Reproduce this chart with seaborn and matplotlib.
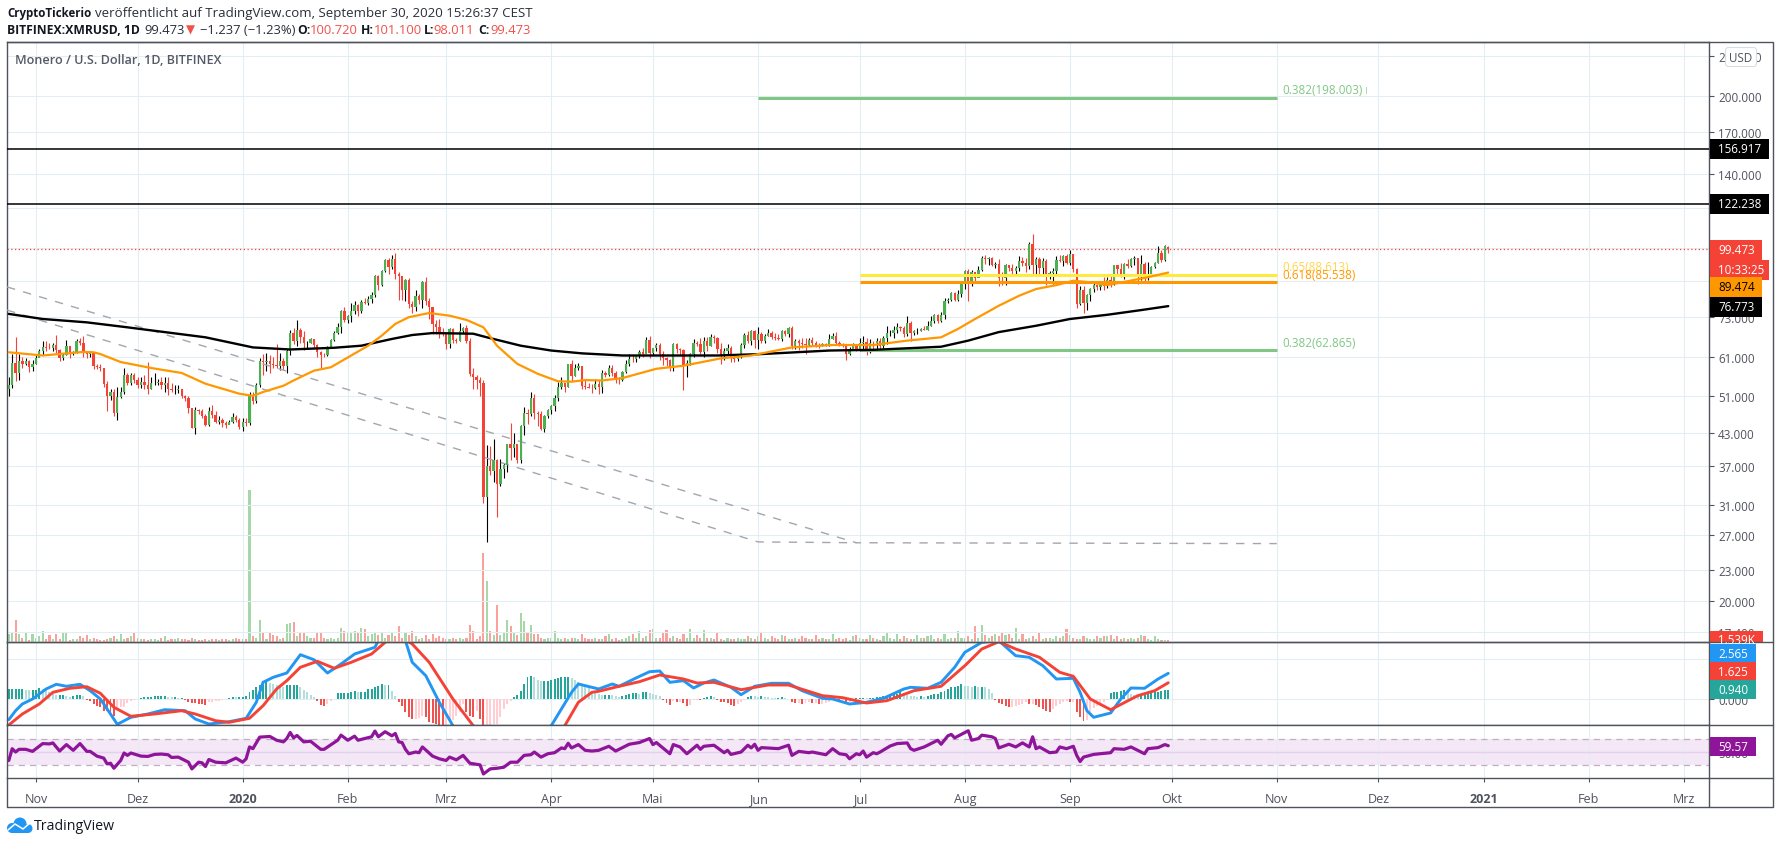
import numpy as np
import matplotlib
matplotlib.use('Agg')
import matplotlib.pyplot as plt
from matplotlib.patches import Rectangle, Circle, FancyBboxPatch
from matplotlib.ticker import NullLocator
import seaborn as sns

# daily candles, 24 Oct 2019 to 30 Sep 2020, days counted from 1 Nov 2019
first_day = -8
closes = [53.5,59.2,56.7,59.7,58.9,59.7,58.2,59.0,60.7,62.5,
    63.6,63.4,63.3,64.3,62.9,60.6,61.5,63.9,62.2,62.2,
    65.6,65.0,62.2,61.7,62.2,58.5,58.2,57.9,53.8,51.0,
    51.9,47.2,50.8,51.9,56.0,54.0,56.0,54.9,53.5,54.4,
    53.5,52.6,54.0,54.1,54.3,53.6,54.0,52.6,52.4,52.4,
    52.5,51.0,50.6,48.2,44.1,47.8,47.5,46.6,44.7,47.7,
    46.8,45.3,45.6,45.0,44.6,45.3,46.4,45.7,44.2,45.3,
    45.0,51.0,49.9,53.5,59.8,59.4,59.9,59.0,58.6,58.3,
    59.8,58.3,62.6,68.0,65.6,68.8,66.8,64.8,64.9,66.0,
    64.2,62.3,61.4,61.3,63.5,65.7,67.8,69.8,75.0,72.1,
    73.4,75.0,77.1,75.0,78.3,78.0,79.4,80.6,88.0,84.4,
    90.0,94.6,91.6,95.0,88.8,88.1,82.6,86.4,77.5,76.3,
    80.4,79.0,85.7,78.6,76.6,70.8,69.8,67.8,67.5,64.5,
    69.1,65.7,65.6,68.5,69.4,65.4,56.3,55.7,54.8,54.0,
    32.2,37.0,36.2,38.0,34.1,36.5,37.2,40.9,40.2,41.0,
    38.1,44.4,47.1,47.0,50.5,47.2,47.0,43.9,46.5,47.8,
    48.7,50.6,53.0,54.0,53.2,59.1,55.9,57.8,58.3,53.3,
    53.0,52.9,52.8,53.9,53.1,56.6,56.0,58.0,56.5,54.9,
    54.7,56.9,59.0,60.4,60.2,61.1,62.2,61.8,65.9,62.0,
    63.3,64.4,61.8,60.5,60.0,58.2,64.7,63.0,62.8,58.4,
    59.3,61.6,64.9,64.6,62.2,65.4,63.9,66.6,66.4,63.0,
    61.1,62.7,63.5,60.6,60.4,60.9,64.4,67.3,65.6,68.4,
    65.8,67.7,65.5,66.9,68.0,66.8,66.5,66.0,68.4,67.5,
    69.5,63.9,65.6,64.9,64.5,64.3,65.8,64.8,64.4,64.3,
    64.6,64.4,66.0,67.0,65.0,64.3,64.1,61.7,63.0,64.0,
    63.0,65.0,65.2,62.3,65.0,64.8,65.4,63.9,66.4,67.9,
    68.0,68.9,69.8,69.6,67.7,71.2,67.9,68.5,68.6,69.2,
    69.0,70.2,71.7,73.6,71.7,73.8,78.6,78.8,81.6,79.0,
    81.2,85.0,90.2,85.0,89.5,87.3,90.6,95.7,95.2,95.4,
    92.4,93.1,87.3,87.1,92.8,91.4,90.0,91.5,94.1,93.3,
    92.0,102.0,92.4,95.2,91.4,94.3,88.7,89.3,90.2,94.8,
    94.5,96.7,93.3,97.4,91.0,77.6,82.7,77.8,80.6,83.0,
    84.7,83.7,85.5,84.2,86.5,85.2,92.4,91.0,88.3,93.1,
    92.0,95.2,95.4,88.9,93.1,87.3,87.8,91.7,93.3,97.9,
    94.8,101.2,99.473]
highs = [55.5,61.6,66.6,61.6,61,60.5,60,60,61.7,63,
    65.5,65.5,65,65,67.4,63,62,65.8,64,62.5,
    66,66.5,67,62.5,62.5,62,59,59,58,54.5,
    52.5,52.5,53,53,58,56.5,56.5,56.5,55.5,55.5,
    56,59.5,55.5,56.5,55,55.5,55.7,55.7,54,53.5,
    53.5,52.5,51.2,51,48,48.5,48,48,47,48.5,
    49,47.5,46.5,46.2,45.5,45.6,47.2,46.8,46,46,
    46,52,52,54,60.5,61.8,62,61.5,61,64.5,
    62,60.5,63,68.8,69.5,72,69.5,68.5,65.5,66.5,
    66,64.5,62.6,62,64,66,68.5,71,75.5,76.5,
    73.8,78,78.5,77.5,79,79.5,80.5,82,88.5,88.5,
    90.5,95,95.5,97,98,89.5,87,87,87.3,78.5,
    82.5,81,86,87.5,79.5,76,72,72.5,69.5,67.5,
    69.5,69.5,66.5,71,69.8,70.5,66.3,58,56,55.5,
    54.8,40.8,40.5,41.8,38.2,38.2,37.6,40.9,45,43,
    41,44.6,48.5,48,52,51.5,47.5,47.5,46.7,48,
    49,51.2,54.3,55.5,54,59.1,60,59,59.3,58.5,
    54.7,54,53.8,55,54.8,57.5,57,58.8,58.7,57,
    55.7,57,60,61.8,61.5,61.5,62.8,63.3,66.8,67,
    63.5,65,65,62.5,60.8,60.3,64.9,65,63.5,63,
    60,62,66,65.5,66.5,66.8,66.8,67.5,67.3,66.8,
    65,63.5,64.5,64,61,61.5,64.8,67.8,68.5,68.8,
    69,69.8,68.3,67.5,69.2,68.5,68,67.5,68.8,69,
    69.7,70,66,66,66.5,66.5,66.5,66.8,65.5,65,
    65,65,67.5,68,68.3,65.5,64.8,64.3,63.8,65,
    64.5,66.5,67,66.3,66,65.5,66.5,66.3,67,70,
    68.8,70,71,70,70,73.5,71.8,69,69.5,69.6,
    70,71.8,73.5,74,74,74.8,79.5,79.5,82,82,
    82.5,85.5,90.5,91,90.5,89.5,92,96.5,97,96,
    96,94,95,89.5,93,92.5,93,92,96.5,96,
    95.5,103,106.5,96,96,95.5,95,90,91.5,96.5,
    97,97,97.5,99,97.5,91.5,84,84,81,83.5,
    85.5,85,86,87.5,87.5,88,92.8,92.5,93.5,93.5,
    95,95.5,96.5,94.5,97,94,94,92.3,94,101,
    99,101.5,101.1]
lows = [51,52.9,54.5,54.8,58,58.7,56.9,57,59,61,
    61.5,62.7,63,62.5,62,59.8,60,61.5,60.5,61.5,
    62,64.2,61,60.5,61,57.6,57.6,57.2,53,47.5,
    50,46.6,45.6,50.5,51.5,53.5,53.7,54,52.8,52.8,
    52.7,51.5,52.5,53.5,53.5,52.7,52,51.3,51.8,51.5,
    51.6,50.5,49.7,47.2,44,42.8,47,46,44.4,44.5,
    46,45,44.8,44.2,44,44.8,45,45.3,43.8,43.5,
    44.5,44.6,49.2,49.4,53,56,57.2,56.5,58,58,
    57.5,57.5,56.5,61.5,64.5,64,64.8,62.8,63,64.8,
    63.5,61,57.9,61,61.2,63.5,65.5,67.5,68,71.5,
    71,71.5,74,73.5,74.5,77.5,77,78,80,82.5,
    84,89.5,89,91,87,79,78.8,78.5,76,74.5,
    75,77.5,76,77,72.5,67.7,67.5,66.5,67,63.2,
    63.5,65,65,65.5,68,65,55.8,52.5,52.5,50.9,
    31.3,26.2,35.5,34.5,29.3,33.8,35,36,38,38.5,
    37.5,37.6,42.7,44.8,46.5,45.8,44.5,43.7,43.2,46,
    47,47.5,49.8,52.5,52,53,54.5,55.8,57.5,52.5,
    52.7,52.8,51.7,52.5,51.5,51.6,55.5,55.8,55.8,54,
    53.8,54.5,56.5,58.5,59.5,59.5,60.5,61,62,60.6,
    61.5,62.5,60,58.8,58.5,57,57.2,62,61.3,52.3,
    55.7,58.8,61,64,61.8,61,62.5,64,65,62,
    59,60,61.5,59.5,59.5,59.7,60.5,63.5,64.8,64.2,
    63.5,63,64.8,64.8,67,66.2,65.8,65.7,65.5,67,
    66.8,63,63,62.8,63.5,61.7,64,64,63.8,63.5,
    63.9,64,64,66,64.5,64,63.6,60,61.5,63,
    62.6,62.5,63,61.3,61.9,63,62.8,63,63.4,64.5,
    67,66.5,68,68.5,66.8,67,65.5,67.2,67.5,68.5,
    68.8,69,70,71,71,71.5,72.5,78,78.5,78.5,
    78.6,80,83,78.5,84,85.5,87.5,90,93,92.5,
    92,91.5,84,84.5,84.5,90,88.5,89,90,92,
    89.5,91,89,88.9,88.5,89,84.5,87,84.8,88.5,
    94,92,93,92.5,89.5,76,77,74.3,75.5,78.5,
    82,82.5,82.5,82.5,83.3,83.8,84.5,88.5,87.5,87,
    91.5,91.8,92.5,85,86.5,85.5,86.5,88,91.5,93.5,
    94,94.5,98.011]
volumes_k = [7,8,20,7,4,9,2,7,4,5,
    10,3,6,3,7,3,8,8,2,3,
    3,5,4,6,3,4,3,2,2,3,
    4,5,3,7,3,4,5,9,4,3,
    3,2,3,3,2,4,5,2,3,3,
    4,3,3,2,4,3,2,2,3,2,
    3,3,2,3,3,2,3,4,3,3,
    3,137,5,4,19.5,8,3,9,6,5,
    3,4,16,17,18,5,8,8,5,4,
    4,8,8,4,3,4,3,4,13,10,
    9,8,10,8,13,12,5,7,9,6,
    9,4,6,9,5,14,4,9,6,10,
    5,3,4,6,3,7,4,5,4,3,
    3,4,3,4,3,4,15,10,3,5,
    80,55,10,6,33,6,8,20,14,8,
    6,26,19,8,15,7,7,4,3,4,
    4,10,4,3,4,3,4,4,3,7,
    4,3,3,4,3,3,5,7,3,4,
    2,3,4,5,7,4,10,4,5,11,
    12,4,4,9,11,4,5,4,3,7,
    4,12,4,6,4,11,4,4,3,9,
    3,2,4,3,3,4,3,3,5,4,
    3,5,9,4,3,5,4,3,6,5,
    3,3,4,3,5,4,3,3,6,3,
    4,3,3,7,3,4,3,4,2,5,
    6,4,3,3,6,4,3,2,5,9,
    4,3,7,3,5,4,3,3,6,4,
    4,5,6,3,4,3,7,3,4,4,
    10,4,4,5,3,14,4,15,6,4,
    5,7,5,8,6,7,4,13,3,7,
    3,4,5,3,9,3,4,4,3,5,
    4,5,12,6,4,3,3,5,4,3,
    3,5,4,5,5,6,3,5,3,4,
    3,4,3,4,6,5,3,2,5,3,
    2,2,1.5]

# moving averages at the bends
ma50_days = [-8,2,14,17,19,25,34,43,50,60,64,67,73,76,82,87,93,98,102,106,110,116,122,127,132,136,
    142,148,154,158,162,167,173,183,191,202,211,223,235,247,257,267,272,277,284,290,295,301,306,311,316,322,328,334]
ma50 = [62.2,61.3,62.3,62.2,61.7,59.5,57.9,56.6,53.9,51.5,51,51.9,53.4,54.7,57.2,58.1,61.3,64.1,67.1,70.8,73,74.4,73.5,72.1,69.7,64.1,
    59,56.4,54.5,54.4,54.8,54.7,55.3,57.7,58.5,60.5,61.3,63.6,64.3,64.3,65.6,66.6,69.2,72.4,76.9,80.5,83,84.5,86.2,85.6,84.5,86,87.6,89.474]
ma200_days = [-8,2,15,27,38,50,64,75,88,96,105,111,117,129,133,143,152,161,173,201,214,234,247,267,275,284,295,305,316,326,334]
ma200 = [74.1,72.4,71.3,69.7,68.2,66.6,63.6,63,63.5,64.1,66.1,67.3,67.9,67.7,66.6,64.1,62.7,61.9,61.3,61.3,61.7,62.7,62.9,63.8,65.6,68.2,70.2,72.4,73.8,75.4,76.773]

macd_days = [-8,-6,-4,-1,3,6,9,13,16,19,22,24,28,33,38,44,47,51,57,62,65,67,70,74,78,82,86,90,94,100,101,105,109,111,115,119,123,131,142,152,158,160,166,
    170,172,177,181,184,187,191,194,197,200,205,208,212,217,222,226,232,235,240,245,250,256,258,263,267,271,274,279,284,289,293,297,301,306,308,310,312,317,320,323,327,331,334]
macd = [-2.07,-1.17,-.5,0,1,1.47,1.27,1.47,.83,0,-1.5,-2.53,-1.83,-1.5,-1.07,-1.17,-2,-2.5,-2.27,-1.93,-.33,1.67,2.17,2.6,4.43,3.93,2.6,3.5,4.5,5.17,5.83,7,5.83,3.67,2.33,-.33,-2.67,-4.67,-5,-2.67,.67,1.5,1,
    1.5,1.27,2.1,2.73,2.8,1.67,1.83,1.1,1.6,1.9,1.17,.43,1.27,1.57,1.57,.83,.07,0,-.5,-.33,.07,1,1.17,1.07,1.67,3.17,4.67,5.67,5.83,4.33,4.17,3.33,2,2.07,.67,-1.17,-1.83,-1.4,0,1.1,1.07,2,2.565]
signal_days = [-8,-4,1,5,10,15,19,23,28,35,43,47,53,57,63,67,71,74,78,83,88,93,99,103,107,111,116,123,129,136,147,156,160,164,166,
    172,178,184,191,195,200,208,216,222,232,238,245,251,259,267,274,279,284,289,296,302,306,311,317,325,330,334]
signal = [-2.6,-1.5,-.5,.67,1.07,1.23,.57,-.83,-1.73,-1.5,-1.17,-1.5,-2.17,-2.33,-1.93,-.67,1,1.83,3.17,3.77,3.07,3.67,4.5,5.67,6.33,5.5,3.67,0,-2.67,-4.33,-4.67,-2.67,-.33,.67,.77,
    1.27,1.73,2.4,2,1.6,1.67,.93,1.4,1.4,.33,.13,-.4,-.17,.83,1.27,3.33,5,5.73,5,4.17,2.67,2.27,0,-1.07,.33,.83,1.625]
macd_hist = [1,1,1,1,1,.93,.9,.9,.93,1.07,
    1,.87,.73,.6,.4,.4,.4,.33,.17,.27,
    .4,.4,.33,-.07,-.17,-.5,-.67,-.83,-1.17,-1.2,
    -1.27,-1.67,-1,-.83,-.83,-.4,-.17,-.07,0,.1,
    .17,.17,.2,.27,.27,.33,.33,.23,.17,.17,
    .07,.07,-.1,-.33,-.4,-.43,-.47,-.5,-.57,-.33,
    -.27,-.2,-.17,-.1,-.03,.1,.2,.17,.2,.23,
    .27,.67,.9,1.17,1.43,1.83,1.93,1.6,1.5,1.43,
    1.27,1.17,1.4,1.43,1.43,1.43,1.17,.9,.67,.4,
    .17,-.17,-.6,-.67,-.5,-.17,-.03,.57,.57,.6,
    .6,.73,.83,.67,.67,.67,1,1,1.17,1.33,
    1.5,1.4,1.4,.83,.33,-.33,-.73,-1.33,-1.83,-2,
    -2,-1.93,-1.67,-1.83,-2.27,-2.4,-2.5,-2.8,-3,-2.9,
    -2.33,-2.07,-1.67,-1.33,-.5,-1.33,-1.67,-1.83,-1.17,-2,
    -3.2,-3.1,-2.9,-2.5,-2.5,-1.83,-1,-.5,-.17,.17,
    .4,.83,1.5,2.17,2.27,2.17,1.93,1.83,1.83,1.83,
    1.93,2,2.07,2.17,2.17,2.17,2.07,1.93,1.67,1.5,
    1.33,1.07,.83,.67,.5,
    .4,.4,.43,.4,.27,.17,.27,.4,.5,.57,
    .6,.5,.73,.73,.6,.5,.4,.27,-.1,-.4,
    -.6,-.17,-.27,-.27,-.4,-.67,-.6,-.1,-.07,-.1,
    .07,.17,.27,.2,-.1,-.27,-.33,-.4,-.6,-.67,
    -.5,-.27,-.1,.17,.33,.27,.23,.27,.23,.17,
    .1,.07,.1,.17,.1,-.03,-.27,-.4,-.4,-.5,
    -.4,-.33,-.4,-.4,-.5,-.5,-.4,-.27,-.1,-.07,
    -.17,-.07,-.27,-.27,0,.07,.1,.1,.07,.1,
    .1,.17,.23,.27,.33,.4,.5,.5,.67,.6,
    .4,.33,.27,.23,.27,.23,.27,.4,.5,.5,
    .73,.83,1,1.17,1.17,1.27,1.5,1.33,1.27,1.17,
    1.27,1.23,1.23,1.17,1,.6,-.07,-.4,-.5,-.67,
    -.83,-.83,-.67,-.6,-.5,-.33,-.5,-.5,-.6,-.83,
    -1,-1.17,-1.27,-1,-.67,-.5,-.33,-.17,-.27,-.27,-1.33,
    -1.83,-2.17,-2.07,-1.33,-.93,-.73,-.6,-.33,-.1,.6,
    .67,.73,.83,.93,.73,.5,.4,.33,.33,.4,
    .5,.6,.67,.73,.83,.93,.94]

rsi_days = [-8,-7,-6,-5,-3,-1,2,4,5,7,9,11,13,15,16,18,20,21,22,23,25,26,27,28,31,33,35,37,39,40,42,45,46,48,49,50,51,53,56,59,61,62,63,64,66,69,71,73,74,75,76,77,79,81,84,85,89,90,92,94,95,99,100,101,103,105,106,107,108,109,110,112,113,114,117,119,121,122,124,126,128,131,132,134,136,138,140,142,144,146,147,149,151,153,155,156,157,158,160,162,164,166,
    169,171,175,178,181,182,183,187,188,190,192,195,196,197,200,203,204,205,208,210,211,212,213,214,219,222,223,225,228,229,233,235,237,239,240,242,243,244,245,247,248,249,252,254,257,258,259,262,266,267,269,270,271,275,276,278,279,282,283,284,287,289,291,293,294,295,296,299,301,302,304,306,307,308,309,312,317,318,321,323,326,327,328,331,333,334]
rsi = [37.2,55.1,50,54.1,54.1,51,62.8,62.3,63.8,51.5,61.3,52.6,62.8,51,51,43.8,40.8,32,33,25.4,37.2,48.5,44.9,48.5,43.8,43.3,46.4,46.9,45.9,41.8,42.3,34.6,24.4,34.6,33.6,28,38.7,34.6,33.6,40.8,34.6,39.7,57.7,55.1,72.6,73.6,67.9,65.4,70.5,79.7,71.5,75.1,65.4,66.4,54.1,54.1,67.9,75.6,67.9,74.1,67.9,73.1,81.8,73.1,80.8,74.6,78.2,65.4,64.4,54.1,47.4,50,49,57.7,43.8,39.7,37.2,42.3,38.2,44.9,33,30.5,16.7,24.4,25.4,26.9,34.6,34.6,44.9,45.9,50,42.3,47.4,49,56.2,55.1,63.3,56.2,61.3,52.6,51.5,52.6,
    58.7,51.5,61.8,64.4,70.5,61.3,64.4,47.4,61.3,57.7,47.4,60.3,54.1,58.7,60.3,49,52.6,46.4,50,60.3,56.2,61.8,52.6,56.7,55.1,60.3,44.9,51,49,50,45.9,55.1,47.4,45.9,39.7,47.4,45.9,51.5,42.3,49,47.4,50,59.2,62.8,63.8,55.1,52.6,57.7,67.9,61.8,74.6,76.7,71.5,82.3,67.9,70.5,75.6,73.1,70.5,56.2,61.8,57.7,63.8,57.7,73.1,55.1,57.7,49,50,57.7,55.1,58.7,44.9,35.6,42.3,46.4,49,55.1,54.1,57.7,50,47.4,55.1,56.7,61.3,59.57]

# levels and drawn lines
fib_labels = ['0.382(198.003)', '0.65(88.613)', '0.618(85.538)', '0.382(62.865)']
fib_prices = [198.003, 88.613, 85.538, 62.865]
fib_starts = [213, 243, 243, 243]
fib_end = 366
hline_prices = [156.917, 122.238]
last_price = 99.473
trend_upper_days = [-8.5, 242, 366]
trend_upper = [83.8, 26.1, 26.0]
trend_lower_days = [-8.5, 213, 242]
trend_lower = [75.4, 26.2, 26.1]

price_ticks = [240, 200, 170, 140, 120, 100, 86, 73, 61, 51, 43, 37, 31, 27, 23, 20, 17.4]
macd_ticks = [0, 4]
rsi_band = [30, 50, 70]
month_days = [0, 30, 61, 92, 121, 152, 182, 213, 243, 274, 305, 335, 366, 396, 427, 458, 486]
month_labels = ['Nov', 'Dez', '2020', 'Feb', 'Mrz', 'Apr', 'Mai', 'Jun', 'Jul', 'Aug', 'Sep', 'Okt', 'Nov', 'Dez', '2021', 'Feb', 'Mrz']

GREEN = '#4CAF50'
RED = '#F44336'
ORANGE = '#FF9800'
GRID = '#E4EDF3'
FRAME = '#50535E'
TEXT = '#50535E'
FONT = ['Open Sans', 'DejaVu Sans']

sns.set_theme(style='white')
plt.rcParams['font.family'] = FONT
plt.rcParams['axes.linewidth'] = 1.0

W, H = 1780, 845
fig = plt.figure(figsize=(W / 100, H / 100), dpi=100)


def right_ticks(ax):
    ax.tick_params(axis='y', right=True, left=False, labelright=True, labelleft=False,
                   length=3.6, width=0.8, color=FRAME, labelcolor=TEXT, labelsize=8.4, pad=3)


def make_pane(top, bottom):
    ax = fig.add_axes([7 / W, 1 - bottom / H, (1709 - 7) / W, (bottom - top) / H])
    ax.set_xlim(-8.53, 493.5)
    ax.set_xticks(month_days)
    ax.grid(True, color=GRID, lw=0.8)
    ax.set_axisbelow(True)
    right_ticks(ax)
    ax.tick_params(axis='x', bottom=False, labelbottom=False)
    for sp in ax.spines.values():
        sp.set_color(FRAME)
    return ax


def line(ax, x, y, color, lw):
    sns.lineplot(x=x, y=y, ax=ax, color=color, lw=lw, estimator=None, errorbar=None, legend=False)
    ax.set_xlabel('')
    ax.set_ylabel('')


# price pane
ax = make_pane(43, 643)
ax.set_yscale('log')
ax.set_ylim(16.6, 256)
ax.yaxis.set_minor_locator(NullLocator())
ax.set_yticks(price_ticks)
ax.set_yticklabels([f'{p:.3f}' for p in price_ticks])
ax.set_zorder(2)
ax.patch.set_visible(False)

days = first_day + np.arange(len(closes))
closes_arr = np.array(closes)
opens_arr = np.r_[closes_arr[0] - 1.0, closes_arr[:-1]]
opens_arr[-1] = 100.72
up = closes_arr >= opens_arr

vol_ax = ax.twinx()
vol_ax.set_zorder(1)
vol_ax.set_ylim(0, 540)
vol_ax.axis('off')
vol_ax.bar(days, volumes_k, width=0.62, color=np.where(up, '#A6D7A8', '#F9A19B'), linewidth=0)
# twinx moved the price labels to the left
ax.yaxis.set_label_position('right')
ax.yaxis.set_ticks_position('right')
right_ticks(ax)

wick_colors = np.where(up, 'black', RED)
ax.vlines(days, lows[:len(days)], highs[:len(days)], colors=wick_colors, lw=0.8, zorder=3)
ax.bar(days, np.abs(closes_arr - opens_arr), bottom=np.minimum(closes_arr, opens_arr), width=0.68,
       color=np.where(up, GREEN, RED), linewidth=0, zorder=4)

line(ax, trend_upper_days, trend_upper, '#A5A6AC', 1.0)
line(ax, trend_lower_days, trend_lower, '#A5A6AC', 1.0)
for trend in ax.get_lines()[-2:]:
    trend.set_linestyle((0, (6, 6)))
    trend.set_zorder(3.5)

line(ax, ma200_days, ma200, 'black', 1.7)
line(ax, ma50_days, ma50, ORANGE, 1.6)
ax.get_lines()[-2].set_zorder(5)
ax.get_lines()[-1].set_zorder(5)

fib_colors = ['#81C784', '#FFEB3B', ORANGE, '#81C784']
for price, start, col in zip(fib_prices, fib_starts, fib_colors):
    ax.hlines(price, start, fib_end, colors=col, lw=2.2, zorder=4.5)
for price in hline_prices:
    ax.axhline(price, color='black', lw=1.1, zorder=5)
ax.axhline(last_price, color=RED, lw=0.9, ls=(0, (1, 2)), zorder=2.5)

# macd pane
ax_macd = make_pane(643, 726)
ax_macd.set_ylim(-2.6, 5.7)
ax_macd.set_yticks(macd_ticks)
ax_macd.set_yticklabels([f'{v:.3f}' for v in macd_ticks])
hist = np.array(macd_hist)
hist_days = first_day + np.arange(len(hist))
prev = np.r_[hist[0], hist[:-1]]
hist_colors = np.where(hist >= 0, np.where(hist >= prev, '#26A69A', '#B2DFDB'),
                       np.where(hist < prev, '#EF5350', '#FFCDD2'))
ax_macd.bar(hist_days, hist, width=0.58, color=hist_colors, linewidth=0, zorder=2)
line(ax_macd, macd_days, macd, '#2196F3', 2.1)
line(ax_macd, signal_days, signal, RED, 2.1)

# rsi pane
ax_rsi = make_pane(726, 779)
ax_rsi.set_ylim(10.6, 91)
ax_rsi.set_yticks([50])
ax_rsi.set_yticklabels(['50.00'])
ax_rsi.grid(False, axis='y')
ax_rsi.axhspan(rsi_band[0], rsi_band[2], color='#9C27B0', alpha=0.11, lw=0, zorder=0.5)
ax_rsi.axhline(rsi_band[1], color='#E2D0EE', lw=1, zorder=1)
for level in (rsi_band[0], rsi_band[2]):
    ax_rsi.axhline(level, color='#BFAEC6', lw=0.9, ls=(0, (5, 4)), zorder=1)
line(ax_rsi, rsi_days, rsi, '#8E1599', 2.3)
ax_rsi.tick_params(axis='x', bottom=True, labelbottom=True, length=3.2, width=0.8, color=FRAME,
                   labelcolor=TEXT, labelsize=9, pad=7)
ax_rsi.set_xticklabels(month_labels)
for lab in ax_rsi.get_xticklabels():
    if lab.get_text() in ('2020', '2021'):
        lab.set_fontweight('bold')

# everything around the panes, in picture pixels
ov = fig.add_axes([0, 0, 1, 1], zorder=10)
ov.set_xlim(0, W)
ov.set_ylim(H, 0)
ov.axis('off')
ov.patch.set_visible(False)

ov.plot([7, 1773, 1773, 7], [808, 808, 43, 43], color=FRAME, lw=1.0)
ov.plot([7, 7], [779, 808], color=FRAME, lw=1.0)
ov.plot([1709, 1709], [779, 808], color=FRAME, lw=1.0)
ov.plot([1709, 1773], [643, 643], color=FRAME, lw=1.0)
ov.plot([1709, 1773], [726, 726], color=FRAME, lw=1.0)
ov.plot([1709, 1773], [779, 779], color=FRAME, lw=1.0)


def tag(label, y, color, right, fg='white', h=20):
    ov.add_patch(Rectangle((1709.5, y - h / 2), right - 1709.5, h, color=color, lw=0))
    ov.text(1718, y, label, color=fg, fontsize=8.4, va='center', ha='left')


tag('156.917', 149.5, 'black', 1769)
tag('122.238', 204.5, 'black', 1769)
tag('99.473', 250.5, RED, 1762)
tag('10:33:25', 270.5, RED, 1769)
tag('89.474', 287.5, ORANGE, 1762, fg='black')
tag('76.773', 307.5, 'black', 1762)
tag('2.565', 654.3, '#2196F3', 1756, h=18.5)
tag('1.625', 672.7, RED, 1756, h=18.5)
tag('0.940', 690.7, '#26A69A', 1756, h=18.5)
tag('59.57', 747.5, '#8E1599', 1756, h=19)

# the volume tag is cut by the pane border
ov.add_patch(Rectangle((1709.5, 632), 1763 - 1709.5, 10.5, color=RED, lw=0))
vol_clip = Rectangle((1700, 630), 80, 12.5, transform=ov.transData)
ov.text(1718, 641, '1.539K', color='white', fontsize=8.4, va='center', clip_on=True, clip_path=vol_clip)

ov.add_patch(FancyBboxPatch((1727, 50), 28, 16, boxstyle='round,pad=1.5,rounding_size=3',
                            fc='white', ec='#DADDE0', lw=0.8))
ov.text(1741, 58, 'USD', color=TEXT, fontsize=8.4, ha='center', va='center')

for label, y, col in [(fib_labels[0], 90.7, '#81C784'), (fib_labels[1], 267.7, '#FFD54F'),
                      (fib_labels[2], 276, ORANGE), (fib_labels[3], 343.7, '#81C784')]:
    ov.text(1282, y, label, color=col, fontsize=8.4, va='center')
ov.text(1366.5, 90.7, '|', color='#81C784', fontsize=6, va='center', ha='center')

ov.text(15, 60.5, 'Monero / U.S. Dollar, 1D, BITFINEX', color='#555A66', fontsize=9.1, fontweight=600, va='center')

ov.text(7, 13, 'CryptoTickerio', color='#131722', fontsize=8.3, fontweight='bold', va='center')
ov.text(95, 13, 'veröffentlicht auf TradingView.com, September 30, 2020 15:26:37 CEST', color='#2A2E39',
        fontsize=9.5, va='center')
ov.text(7, 30, 'BITFINEX:XMRUSD, 1D', color='#131722', fontsize=8.7, fontweight='bold', va='center')
ov.text(144.5, 30, '99.473', color='#2A2E39', fontsize=9.4, va='center')
ov.text(190, 30, '▼', color='#F0514A', fontsize=8.5, ha='center', va='center')
ov.text(200, 30, '−1.237 (−1.23%)', color='#2A2E39', fontsize=9.4, va='center')
for head, hx, value, vx in [('O:', 297, '100.720', 310), ('H:', 360.5, '101.100', 374),
                            ('L:', 424, '98.011', 433), ('C:', 478.5, '99.473', 490.5)]:
    ov.text(hx, 30, head, color='#131722', fontsize=8.7, fontweight='bold', va='center')
    ov.text(vx, 30, value, color='#F0514A', fontsize=9.4, va='center')

# TradingView logo
for cx, cy, r in [(12, 829, 5), (20, 825, 6.5), (28, 829.5, 4.5)]:
    ov.add_patch(Circle((cx, cy), r, color='#2196F3', lw=0))
ov.add_patch(Rectangle((11, 828), 17, 6, color='#2196F3', lw=0))
ov.plot([8, 15, 23, 30], [831, 825, 830, 824], color='white', lw=1.1)
ov.text(34, 827, 'TradingView', color='#131722', fontsize=10.2, va='center')

fig.savefig('out.png', dpi=100)
